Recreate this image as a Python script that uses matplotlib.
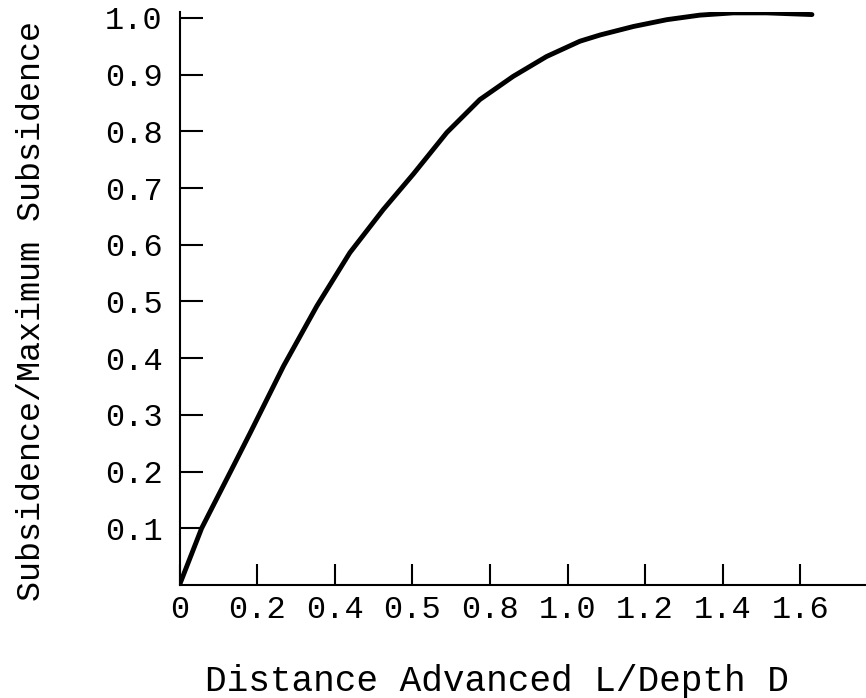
import matplotlib
matplotlib.use("Agg")
import matplotlib.pyplot as plt

# values
dist_ratio = [0, 0.057, 0.086, 0.139, 0.182, 0.268, 0.354, 0.439, 0.525, 0.603,
              0.689, 0.774, 0.86, 0.946, 1.032, 1.084, 1.17, 1.256, 1.341,
              1.427, 1.513, 1.63]
subs_ratio = [0, 0.1, 0.139, 0.21, 0.268, 0.386, 0.492, 0.586, 0.662, 0.725,
              0.798, 0.856, 0.897, 0.932, 0.959, 0.970, 0.985, 0.997, 1.005,
              1.009, 1.009, 1.006]

x_ticks = [0, 0.2, 0.4, 0.6, 0.8, 1.0, 1.2, 1.4, 1.6]
x_labels = ["0", "0.2", "0.4", "0.5", "0.8", "1.0", "1.2", "1.4", "1.6"]
y_ticks = [0.1, 0.2, 0.3, 0.4, 0.5, 0.6, 0.7, 0.8, 0.9, 1.0]
y_labels = ["0.1", "0.2", "0.3", "0.4", "0.5", "0.6", "0.7", "0.8", "0.9", "1.0"]

plt.rcParams["font.family"] = ["Liberation Mono", "DejaVu Sans Mono"]

fig = plt.figure(figsize=(8.66, 6.98), dpi=100)
ax = fig.add_axes([179.5 / 866, 113 / 698, 686.5 / 866, 572.7 / 698])

ax.plot(dist_ratio, subs_ratio, color="black", linewidth=3.5,
        solid_capstyle="round", solid_joinstyle="round")

ax.set_xlim(0, 686.5 / 388)
ax.set_ylim(0, 1.01)

ax.spines["top"].set_visible(False)
ax.spines["right"].set_visible(False)
ax.spines["left"].set_linewidth(1.5)
ax.spines["bottom"].set_linewidth(1.5)

ax.set_xticks(x_ticks)
ax.set_xticklabels(x_labels)
ax.set_yticks(y_ticks)
ax.set_yticklabels(y_labels)
ax.tick_params(axis="y", direction="in", length=16.5, width=1.5, pad=12, labelsize=23)
ax.tick_params(axis="x", direction="in", length=15, width=1.5, pad=7, labelsize=23)

ax.set_xlabel("Distance Advanced L/Depth D", fontsize=26)
ax.xaxis.set_label_coords(0.462, -0.138)
ax.set_ylabel("Subsidence/Maximum Subsidence", fontsize=24)
ax.yaxis.set_label_coords(-0.193, 0.478)

fig.savefig("out.png", dpi=100, facecolor="white")
